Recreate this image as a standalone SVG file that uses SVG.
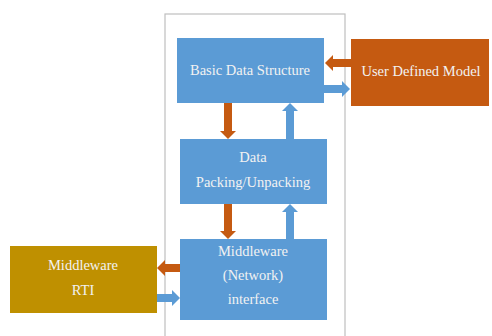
<svg xmlns="http://www.w3.org/2000/svg" width="492" height="336" viewBox="0 0 492 336">
<style>
.blue{fill:#5b9bd5}
.orange{fill:#c55a11}
.gold{fill:#bf9000}
.t{font-family:"Liberation Serif","Times New Roman",serif;font-size:14.5px;fill:#f2f2f2;text-anchor:middle}
</style>
<rect width="492" height="336" fill="#ffffff"/>
<rect x="165" y="14" width="180" height="340" fill="none" stroke="#bfbfbf" stroke-width="1.2"/>
<g id="basic-data-structure">
<rect class="blue" x="177" y="38" width="147" height="65"/>
<text class="t" x="250" y="75">Basic Data Structure</text>
</g>
<g id="user-defined-model">
<rect class="orange" x="351" y="39" width="138" height="67"/>
<text class="t" x="421" y="76">User Defined Model</text>
</g>
<g id="data-packing">
<rect class="blue" x="180" y="139" width="147" height="65"/>
<text class="t" x="253" y="162">Data</text>
<text class="t" x="253" y="187">Packing/Unpacking</text>
</g>
<g id="middleware-interface">
<rect class="blue" x="180" y="239" width="147" height="81"/>
<text class="t" x="253" y="256">Middleware</text>
<text class="t" x="253" y="280">(Network)</text>
<text class="t" x="253" y="304">interface</text>
</g>
<g id="middleware-rti">
<rect class="gold" x="10" y="246" width="147" height="67"/>
<text class="t" x="83" y="270">Middleware</text>
<text class="t" x="83" y="295">RTI</text>
</g>
<g id="connectors">
<polygon class="orange" points="351,59 333,59 333,55 325,63 333,71 333,67 351,67"/>
<polygon class="blue" points="324,85 342,85 342,81 350,89 342,97 342,93 324,93"/>
<polygon class="orange" points="224,103 232,103 232,131 236,131 228,139 220,131 224,131"/>
<polygon class="blue" points="286,139 294,139 294,111 298,111 290,103 282,111 286,111"/>
<polygon class="orange" points="224,204 232,204 232,231 236,231 228,239 220,231 224,231"/>
<polygon class="blue" points="286,239 294,239 294,212 298,212 290,204 282,212 286,212"/>
<polygon class="orange" points="180,264 165,264 165,260 157,268 165,276 165,272 180,272"/>
<polygon class="blue" points="157,294 172,294 172,290 180,298 172,306 172,302 157,302"/>
</g>
</svg>
